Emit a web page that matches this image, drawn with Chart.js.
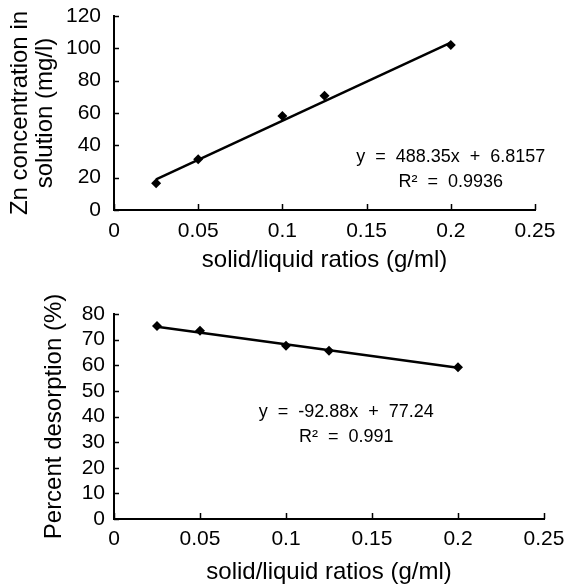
<!DOCTYPE html>
<html>
<head>
<meta charset="utf-8">
<script src="https://cdn.jsdelivr.net/npm/chart.js@4/dist/chart.umd.min.js"></script>
<style>
  body { margin: 0; background: #fff; width: 569px; height: 584px; position: relative; overflow: hidden; }
  canvas { position: absolute; left: 0; }
  #zn-chart { top: 0; }
  #desorption-chart { top: 285px; }
</style>
</head>
<body>
<canvas id="zn-chart" width="569" height="285"></canvas>
<canvas id="desorption-chart" width="569" height="299"></canvas>
<script>
// solid/liquid ratios (g/ml)
const ratios = [0.025, 0.05, 0.1, 0.125, 0.2];
// Zn concentration in solution (mg/l)
const znConc = [16.5, 31.4, 58.1, 70.7, 102.1];
// Percent desorption (%)
const desorption = [75.3, 73.5, 67.6, 65.7, 59.2];

// trend line ends, read at first and last ratio
const trendX = [0.025, 0.2];
const znTrend = [19.0, 103.5];
const desorptionTrend = [75.0, 59.0];

const xTickLabels = ['0', '0.05', '0.1', '0.15', '0.2', '0.25'];
const znTickLabels = ['0', '20', '40', '60', '80', '100', '120'];
const desorptionTickLabels = ['0', '10', '20', '30', '40', '50', '60', '70', '80'];

const znEquation = ['y  =  488.35x  +  6.8157', 'R\u00B2  =  0.9936'];
const desorptionEquation = ['y  =  -92.88x  +  77.24', 'R\u00B2  =  0.991'];

const FONT = "'Liberation Sans', Arial, Helvetica, sans-serif";

// short tick marks pointing into the plot area
const innerTicks = {
    id: 'innerTicks',
    afterDraw(chart) {
        const ctx = chart.ctx;
        const { x, y } = chart.scales;
        ctx.save();
        ctx.strokeStyle = '#000';
        ctx.lineWidth = 1.5;
        ctx.beginPath();
        x.ticks.forEach(t => {
            const px = Math.round(x.getPixelForValue(t.value)) + 0.5;
            ctx.moveTo(px, y.bottom);
            ctx.lineTo(px, y.bottom - 6);
        });
        y.ticks.forEach(t => {
            const py = Math.round(y.getPixelForValue(t.value)) + 0.5;
            ctx.moveTo(x.left, py);
            ctx.lineTo(x.left + 5, py);
        });
        ctx.stroke();
        ctx.restore();
    }
};

// regression equation text
const equationText = {
    id: 'equationText',
    afterDatasetsDraw(chart, args, opts) {
        const ctx = chart.ctx;
        const { x, y } = chart.scales;
        ctx.save();
        ctx.fillStyle = '#000';
        ctx.font = '18px ' + FONT;
        ctx.textAlign = 'center';
        ctx.textBaseline = 'middle';
        opts.lines.forEach((line, i) => {
            ctx.fillText(line, x.getPixelForValue(opts.at[0]), y.getPixelForValue(opts.at[1][i]));
        });
        ctx.restore();
    }
};

function makeChart(canvas, values, trend, yMax, yStep, yTicks, yTitle, eq, box) {
    return new Chart(canvas.getContext('2d'), {
        type: 'scatter',
        data: {
            datasets: [
                {
                    data: ratios.map((r, i) => ({ x: r, y: values[i] })),
                    pointStyle: 'rectRot',
                    pointRadius: 5,
                    backgroundColor: '#000',
                    borderColor: '#000',
                    borderWidth: 0,
                    showLine: false
                },
                {
                    data: trendX.map((r, i) => ({ x: r, y: trend[i] })),
                    showLine: true,
                    pointRadius: 0,
                    borderColor: '#000',
                    borderWidth: 2.5
                }
            ]
        },
        options: {
            responsive: false,
            animation: false,
            devicePixelRatio: 1,
            layout: { padding: { left: 0, right: box.right, top: box.top, bottom: 0 } },
            plugins: {
                legend: { display: false },
                tooltip: { enabled: false },
                equationText: eq
            },
            scales: {
                x: {
                    type: 'linear',
                    min: 0,
                    max: 0.25,
                    grid: { display: false, drawTicks: false },
                    border: { display: true, color: '#000', width: 2 },
                    ticks: {
                        stepSize: 0.05,
                        autoSkip: false,
                        maxRotation: 0,
                        padding: box.xPad,
                        color: '#000',
                        font: { family: FONT, size: 21 },
                        callback: (v, i) => xTickLabels[i]
                    },
                    title: {
                        display: true,
                        text: 'solid/liquid ratios (g/ml)',
                        color: '#000',
                        font: { family: FONT, size: 24, lineHeight: 1.0 },
                        padding: { top: 0, bottom: box.xTitlePad }
                    },
                    afterFit: s => {
                        s.height = box.xHeight;
                        s.paddingLeft = 0;
                        s.paddingRight = 0;
                    }
                },
                y: {
                    min: 0,
                    max: yMax,
                    grid: { display: false, drawTicks: false },
                    border: { display: true, color: '#000', width: 2 },
                    ticks: {
                        stepSize: yStep,
                        autoSkip: false,
                        padding: box.yPad,
                        color: '#000',
                        font: { family: FONT, size: 21 },
                        callback: (v, i) => yTicks[i]
                    },
                    title: {
                        display: true,
                        text: yTitle,
                        color: '#000',
                        font: { family: FONT, size: 24, lineHeight: 1.05 },
                        padding: { top: box.yTitlePad, bottom: 0 }
                    },
                    afterFit: s => {
                        s.width = 114;
                        s.paddingTop = 0;
                        s.paddingBottom = 0;
                    }
                }
            }
        },
        plugins: [innerTicks, equationText]
    });
}

makeChart(
    document.querySelector('#zn-chart'),
    znConc, znTrend, 120, 20, znTickLabels,
    ['Zn concentration in', 'solution (mg/l)'],
    { lines: znEquation, at: [0.2, [33, 17]] },
    { top: 16, right: 34, xHeight: 75, xPad: 9, xTitlePad: 13, yPad: 13, yTitlePad: 8 }
);

makeChart(
    document.querySelector('#desorption-chart'),
    desorption, desorptionTrend, 80, 10, desorptionTickLabels,
    'Percent desorption (%)',
    { lines: desorptionEquation, at: [0.135, [41.8, 32]] },
    { top: 29, right: 25, xHeight: 65, xPad: 8, xTitlePad: 0, yPad: 9, yTitlePad: 42 }
);
</script>
</body>
</html>
